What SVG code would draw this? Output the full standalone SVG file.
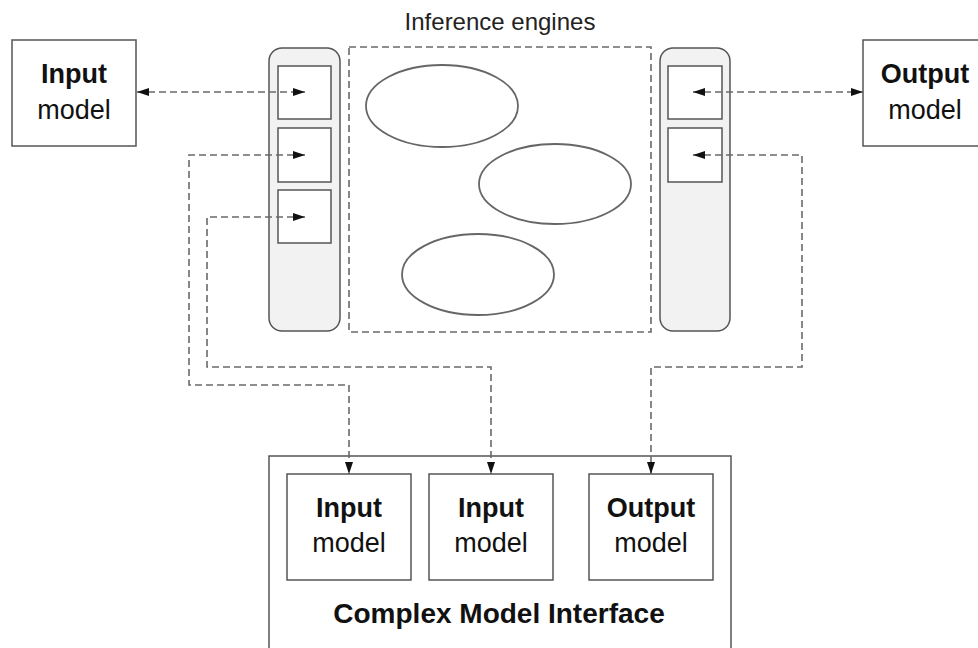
<svg xmlns="http://www.w3.org/2000/svg" width="978" height="648" viewBox="0 0 978 648">
<style>
  .box { fill: #ffffff; stroke: #555555; stroke-width: 1.5; }
  .panel { fill: #f2f2f2; stroke: #555555; stroke-width: 1.5; }
  .eng { fill: #ffffff; stroke: #666666; stroke-width: 1.8; }
  .dash { fill: none; stroke: #6a6a6a; stroke-width: 1.6; stroke-dasharray: 7 4; }
  .conn { fill: none; stroke: #6a6a6a; stroke-width: 1.6; stroke-dasharray: 7 4; }
  .b { font-family: "Liberation Sans", Arial, sans-serif; font-weight: bold; font-size: 27px; fill: #111111; text-anchor: middle; }
  .r { font-family: "Liberation Sans", Arial, sans-serif; font-size: 27px; fill: #111111; text-anchor: middle; }
  .c { font-family: "Liberation Sans", Arial, sans-serif; font-weight: bold; font-size: 28px; fill: #111111; text-anchor: middle; }
  .t { font-family: "Liberation Sans", Arial, sans-serif; font-size: 24px; fill: #222222; text-anchor: middle; }
</style>
<defs>
  <marker id="ah" markerUnits="userSpaceOnUse" markerWidth="12" markerHeight="8" refX="12" refY="4" orient="auto-start-reverse">
    <path d="M0,0 L12,4 L0,8 z" fill="#111111"/>
  </marker>
</defs>
<rect width="978" height="648" fill="#ffffff"/>

<g id="inference-engines">
  <rect class="dash" x="349" y="47" width="302" height="285"/>
  <text class="t" x="500" y="30">Inference engines</text>
  <ellipse class="eng" cx="442" cy="106" rx="76" ry="41"/>
  <ellipse class="eng" cx="555" cy="184" rx="76" ry="40"/>
  <ellipse class="eng" cx="478" cy="274.5" rx="76" ry="40.5"/>
</g>

<g id="left-panel">
  <rect class="panel" x="269" y="48" width="71" height="283" rx="13" ry="13"/>
  <rect class="box" x="278" y="66" width="53" height="53"/>
  <rect class="box" x="278" y="128" width="53" height="54"/>
  <rect class="box" x="278" y="190" width="53" height="53"/>
</g>

<g id="right-panel">
  <rect class="panel" x="660" y="48" width="70" height="283" rx="13" ry="13"/>
  <rect class="box" x="668" y="66" width="54" height="53"/>
  <rect class="box" x="668" y="128" width="54" height="54"/>
</g>

<g id="input-model-top">
  <rect class="box" x="12" y="40" width="124" height="106"/>
  <text class="b" x="74" y="83">Input</text>
  <text class="r" x="74" y="119">model</text>
</g>

<g id="output-model-top">
  <rect class="box" x="863" y="40" width="124" height="106"/>
  <text class="b" x="925" y="83">Output</text>
  <text class="r" x="925" y="119">model</text>
</g>

<g id="complex-model-interface">
  <rect class="box" x="269" y="456" width="462" height="200"/>
  <text class="c" x="499" y="623">Complex Model Interface</text>
</g>

<g id="cmi-input-1">
  <rect class="box" x="287" y="474" width="124" height="106"/>
  <text class="b" x="349" y="517">Input</text>
  <text class="r" x="349" y="552">model</text>
</g>

<g id="cmi-input-2">
  <rect class="box" x="429" y="474" width="124" height="106"/>
  <text class="b" x="491" y="517">Input</text>
  <text class="r" x="491" y="552">model</text>
</g>

<g id="cmi-output">
  <rect class="box" x="589" y="474" width="124" height="106"/>
  <text class="b" x="651" y="517">Output</text>
  <text class="r" x="651" y="552">model</text>
</g>

<g id="connectors">
  <path class="conn" d="M137,92 H305" marker-start="url(#ah)" marker-end="url(#ah)"/>
  <path class="conn" d="M305,155 H189 V385 H349 V474" marker-start="url(#ah)" marker-end="url(#ah)"/>
  <path class="conn" d="M305,217 H207 V367 H491 V474" marker-start="url(#ah)" marker-end="url(#ah)"/>
  <path class="conn" d="M693,92 H863" marker-start="url(#ah)" marker-end="url(#ah)"/>
  <path class="conn" d="M693,155 H802 V367 H651 V474" marker-start="url(#ah)" marker-end="url(#ah)"/>
</g>
</svg>
